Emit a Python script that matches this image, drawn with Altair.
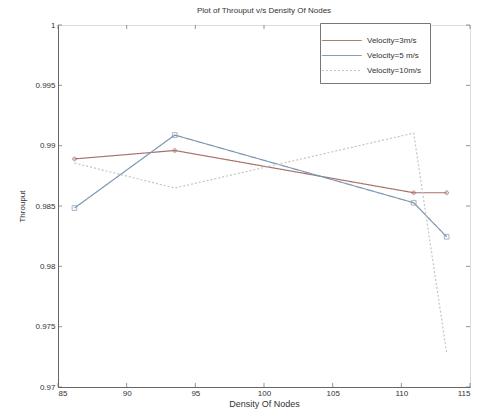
import altair as alt
import pandas as pd

density = [86.2, 93.5, 110.9, 113.3]
v3 = [0.9889, 0.9896, 0.9861, 0.9861]
v5 = [0.98483, 0.99088, 0.98527, 0.98245]
v10 = [0.98856, 0.98649, 0.99104, 0.97282]
series = ["Velocity=3m/s", "Velocity=5 m/s", "Velocity=10m/s"]
colors = ["#a9716c", "#7d96b0", "#c4c4c4"]
x_ticks = [85, 90, 95, 100, 105, 110, 115]
y_ticks = [0.97, 0.975, 0.98, 0.985, 0.99, 0.995, 1.0]

rows = []
for name, vals in zip(series, [v3, v5, v10]):
    for d, v in zip(density, vals):
        rows.append({"Density": d, "Throuput": v, "Series": name})
df = pd.DataFrame(rows)

FONT = "Liberation Sans"
xs = alt.Scale(domain=[85, 115], nice=False, zero=False)
ys = alt.Scale(domain=[0.97, 1.0], nice=False, zero=False)
cs = alt.Scale(domain=series, range=colors)

xaxis = alt.Axis(
    values=x_ticks, title="Density Of Nodes", titleFont=FONT, titleFontSize=9,
    titleFontWeight="normal", titleColor="#333", titlePadding=2,
    labelFont=FONT, labelFontSize=8, labelColor="#333", tickSize=0,
    labelPadding=2, domainColor="#666", grid=False)
yaxis = alt.Axis(
    values=y_ticks, title="Throuput", titleFont=FONT, titleFontSize=8,
    titleFontWeight="normal", titleColor="#333", titlePadding=8,
    labelFont=FONT, labelFontSize=8, labelColor="#333", tickSize=0,
    labelPadding=3, domainColor="#666", grid=False, format="~g")

pad = "\u00a0" * 16
legend = alt.Legend(
    title=None, orient="none", legendX=262, legendY=-2, direction="vertical",
    strokeColor="#777", fillColor="white", padding=8, labelFont=FONT,
    labelFontSize=8, labelColor="#333", symbolType="M-1.8,0L2.8,0", symbolSize=300,
    symbolStrokeWidth=1, rowPadding=1, labelOffset=20, labelLimit=300,
    labelExpr="datum.label + '" + pad + "'",
)

X = alt.X("Density:Q", scale=xs, axis=xaxis)
Y = alt.Y("Throuput:Q", scale=ys, axis=yaxis)

line = alt.Chart(df).mark_line(strokeWidth=1.2).encode(
    x=X, y=Y,
    color=alt.Color("Series:N", scale=cs, legend=legend, sort=series),
    strokeDash=alt.StrokeDash("Series:N", scale=alt.Scale(
        domain=series, range=[[1, 0], [1, 0], [2, 2]]), legend=legend, sort=series),
    order="Density:Q",
)

pts3 = alt.Chart(df[df["Series"] == series[0]]).mark_point(
    shape="cross", filled=False, size=14, strokeWidth=1, color=colors[0]).encode(x=X, y=Y)
pts5 = alt.Chart(df[df["Series"] == series[1]]).mark_point(
    shape="square", filled=False, size=22, strokeWidth=1, color=colors[1]).encode(x=X, y=Y)

tx = pd.DataFrame({"Density": x_ticks})
ty = pd.DataFrame({"Throuput": y_ticks})
tk = dict(orient="vertical", size=4, thickness=1, color="#666")
th = dict(orient="horizontal", size=4, thickness=1, color="#666")
xb = alt.Chart(tx).mark_tick(yOffset=-2, **tk).encode(x=X, y=alt.datum(0.97, scale=ys))
xt = alt.Chart(tx).mark_tick(yOffset=2, **tk).encode(x=X, y=alt.datum(1.0, scale=ys))
yl = alt.Chart(ty).mark_tick(xOffset=2, **th).encode(y=Y, x=alt.datum(85, scale=xs))
yr = alt.Chart(ty).mark_tick(xOffset=-2, **th).encode(y=Y, x=alt.datum(115, scale=xs))

chart = alt.layer(line, pts3, pts5, xb, xt, yl, yr).properties(
    width=412, height=362,
    title=alt.Title("Plot of Throuput v/s Density Of Nodes", font=FONT,
                    fontSize=8, fontWeight="normal", color="#333", offset=6),
    autosize=alt.AutoSizeParams(type="none"),
    padding={"left": 58, "top": 25, "right": 8, "bottom": 23},
).configure_view(stroke="#666", strokeWidth=1).configure(background="white")

chart.save("out.html", embed_options={"renderer": "svg", "actions": False})
